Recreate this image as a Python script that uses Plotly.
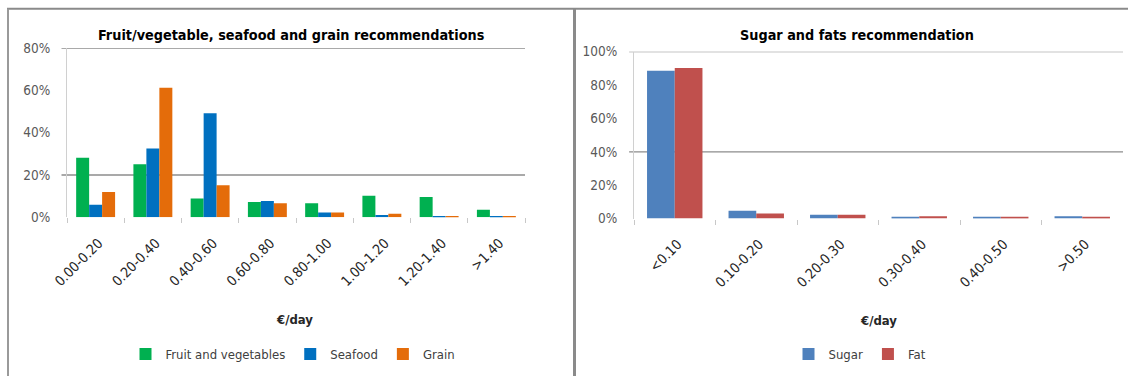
import plotly.graph_objects as go

# ---- Data ----
left_categories = ["0.00-0.20", "0.20-0.40", "0.40-0.60", "0.60-0.80",
                   "0.80-1.00", "1.00-1.20", "1.20-1.40", ">1.40"]
fruit_veg = [0.281, 0.251, 0.089, 0.072, 0.066, 0.102, 0.096, 0.036]
seafood = [0.059, 0.325, 0.492, 0.077, 0.023, 0.011, 0.006, 0.006]
grain = [0.119, 0.612, 0.151, 0.066, 0.023, 0.017, 0.006, 0.006]

right_categories = ["<0.10", "0.10-0.20", "0.20-0.30", "0.30-0.40", "0.40-0.50", ">0.50"]
sugar = [0.886, 0.046, 0.022, 0.006, 0.006, 0.014]
fat = [0.902, 0.030, 0.022, 0.013, 0.006, 0.008]

left_yticks = [0, 0.2, 0.4, 0.6, 0.8]
right_yticks = [0, 0.2, 0.4, 0.6, 0.8, 1.0]

W, H = 1128, 376
FONT = "DejaVu Sans Condensed, Liberation Sans Narrow, Roboto Condensed, Roboto, sans-serif"

def px(x):
    return x / W

def py(y):
    return 1 - y / H

fig = go.Figure()

fig.add_trace(go.Bar(x=left_categories, y=fruit_veg, name="Fruit and vegetables",
                     marker_color="#00B050", xaxis="x", yaxis="y", legend="legend"))
fig.add_trace(go.Bar(x=left_categories, y=seafood, name="Seafood",
                     marker_color="#0070C0", xaxis="x", yaxis="y", legend="legend"))
fig.add_trace(go.Bar(x=left_categories, y=grain, name="Grain",
                     marker_color="#E46C0A", xaxis="x", yaxis="y", legend="legend"))
fig.add_trace(go.Bar(x=right_categories, y=sugar, name="Sugar",
                     marker_color="#4F81BD", xaxis="x2", yaxis="y2", legend="legend2"))
fig.add_trace(go.Bar(x=right_categories, y=fat, name="Fat",
                     marker_color="#C0504D", xaxis="x2", yaxis="y2", legend="legend2"))

tickfont = dict(family=FONT, size=13.5, color="#595959")
xtickfont = dict(family=FONT, size=14, color="#262626")

common_x = dict(type="category", showgrid=False, showline=False, zeroline=False,
                ticks="outside", tickson="boundaries", ticklen=5, tickcolor="#C8C8C8",
                tickwidth=1, tickangle=-45, tickfont=xtickfont, ticklabelstandoff=14,
                ticklabelshift=3, automargin=False)
common_y = dict(showgrid=False, zeroline=False, showline=True, linecolor="#D0D0D0",
                linewidth=1, tickformat=".0%", tickfont=tickfont, ticks="", ticklabelstandoff=13,
                automargin=False)

fig.update_layout(
    template="none",
    width=W, height=H,
    autosize=False,
    margin=dict(l=0, r=0, t=0, b=0, pad=0, autoexpand=False),
    paper_bgcolor="white", plot_bgcolor="white",
    barmode="group",
    showlegend=True,
    xaxis=dict(domain=[px(67), px(525)], anchor="y", **common_x),
    yaxis=dict(domain=[py(217.3), py(48)], anchor="x", range=[0, 0.8],
               tickvals=left_yticks, **common_y),
    xaxis2=dict(domain=[px(634), px(1123)], anchor="y2", **common_x),
    yaxis2=dict(domain=[py(218.5), py(51.7)], anchor="x2", range=[0, 1.0],
                tickvals=right_yticks, **common_y),
    legend=dict(orientation="h", x=px(293), xanchor="center", y=py(354), yanchor="middle",
                font=dict(family=FONT, size=13, color="#404040"), itemwidth=30,
                bgcolor="rgba(0,0,0,0)", tracegroupgap=0, borderwidth=0),
    legend2=dict(orientation="h", x=px(860), xanchor="center", y=py(354), yanchor="middle",
                 font=dict(family=FONT, size=13, color="#404040"), itemwidth=30,
                 bgcolor="rgba(0,0,0,0)", borderwidth=0),
)

fig.update_layout(bargap=0.32, bargroupgap=0)
fig.update_xaxes(selector=dict(anchor="y"))

shapes = []
for yv in [0.2, 0.8]:
    shapes.append(dict(type="line", xref="x domain", yref="y", x0=-0.012, x1=1, y0=yv, y1=yv,
                       line=dict(color="#8C8C8C", width=1.3), layer="below"))
for yv in [0.4, 1.0]:
    shapes.append(dict(type="line", xref="x2 domain", yref="y2", x0=-0.01, x1=1, y0=yv, y1=yv,
                       line=dict(color="#8C8C8C", width=1.3), layer="below"))
shapes.append(dict(type="line", xref="paper", yref="paper", x0=px(7), x1=1, y0=py(8.8), y1=py(8.8),
                   line=dict(color="#8A8A8A", width=2)))
shapes.append(dict(type="line", xref="paper", yref="paper", x0=px(8), x1=px(8), y0=0, y1=py(8.8),
                   line=dict(color="#9A9A9A", width=2)))
shapes.append(dict(type="line", xref="paper", yref="paper", x0=px(574.5), x1=px(574.5), y0=0, y1=py(8.8),
                   line=dict(color="#8A8A8A", width=3)))
fig.update_layout(shapes=shapes)

annotations = [
    dict(text="<b>Fruit/vegetable, seafood and grain recommendations</b>", x=px(291), y=py(35),
         xref="paper", yref="paper", showarrow=False, xanchor="center", yanchor="middle",
         font=dict(family=FONT, size=14.3, color="#000000")),
    dict(text="<b>Sugar and fats recommendation</b>", x=px(857), y=py(35),
         xref="paper", yref="paper", showarrow=False, xanchor="center", yanchor="middle",
         font=dict(family=FONT, size=14.3, color="#000000")),
    dict(text="<b>€/day</b>", x=px(294), y=py(319), xref="paper", yref="paper", showarrow=False,
         xanchor="center", yanchor="middle", font=dict(family=FONT, size=13, color="#262626")),
    dict(text="<b>€/day</b>", x=px(878), y=py(320), xref="paper", yref="paper", showarrow=False,
         xanchor="center", yanchor="middle", font=dict(family=FONT, size=13, color="#262626")),
]
fig.update_layout(annotations=annotations)

fig.write_html("out.html")
